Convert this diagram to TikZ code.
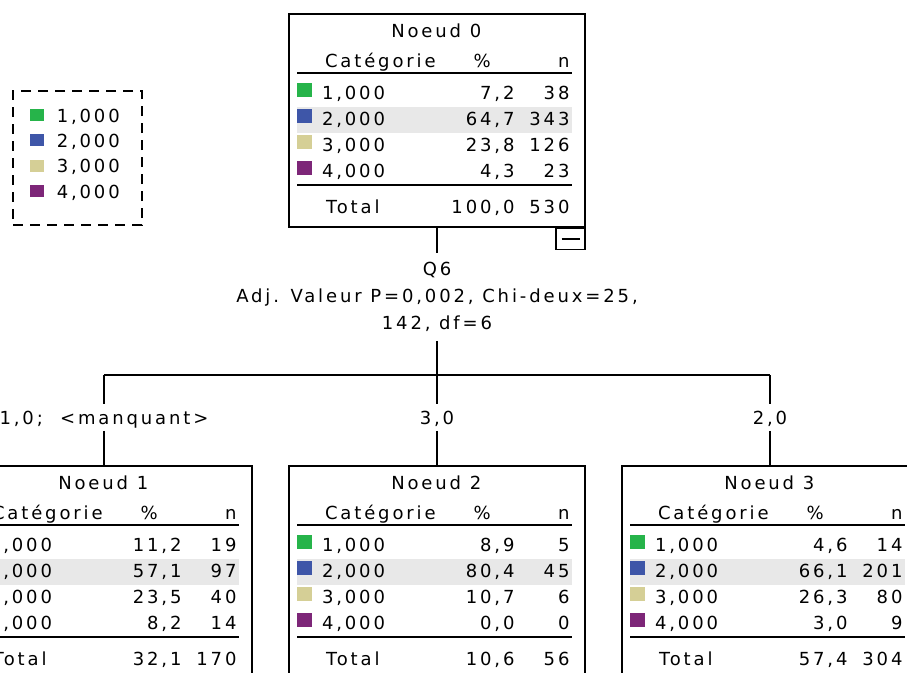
\documentclass[tikz,border=0pt]{standalone}
\usepackage{fontspec}
\setmainfont{DejaVu Sans}[LetterSpace=16]

\definecolor{cat1}{RGB}{38,180,74}
\definecolor{cat2}{RGB}{62,86,168}
\definecolor{cat3}{RGB}{213,207,150}
\definecolor{cat4}{RGB}{125,38,120}
\definecolor{rowgrey}{RGB}{232,232,232}

% one node of the tree: name, top centre, title, rows p/n, total p, total n
\newcommand{\treebox}[6]{%
	\node[boxframe] (#1) at (#2) {};
	\begin{scope}[shift={(#1.north west)}]
		\fill[rowgrey] (9,94) rectangle (284,120);
		\node[cell,anchor=base] (#1-title) at (148,24) {#3};
		\node[cell,anchor=base west] (#1-cat) at (36,54) {Catégorie};
		\node[cell,anchor=base] (#1-pct) at (194,54) {\%};
		\node[cell,anchor=base east] (#1-n) at (282,54) {n};
		\draw[rule] (9,60) -- (284,60);
		\foreach \p/\n [count=\i] in {#4} {
			\pgfmathsetmacro\yb{60+26*\i}
			\fill[cat\i] (9,\yb-16) rectangle (24,\yb-2);
			\node[cell,anchor=base west] (#1-c\i) at (33,\yb) {\i,000};
			\node[cell,anchor=base east] (#1-p\i) at (227,\yb) {\p};
			\node[cell,anchor=base east] (#1-n\i) at (282,\yb) {\n};
		}
		\draw[rule] (9,172) -- (284,172);
		\node[cell,anchor=base west] (#1-tot) at (37,200) {Total};
		\node[cell,anchor=base east] (#1-ptot) at (227,200) {#5};
		\node[cell,anchor=base east] (#1-ntot) at (282,200) {#6};
	\end{scope}}

\begin{document}
\begin{tikzpicture}[x=1pt, y=-1pt, line width=1.5pt,
	font=\fontsize{18}{27}\selectfont,
	boxframe/.style={draw, anchor=north, minimum width=296pt, minimum height=213pt, inner sep=0pt},
	cell/.style={inner sep=0pt},
	rule/.style={line width=1.5pt},
	legendbox/.style={draw, dash pattern=on 10pt off 7pt, minimum width=129pt, minimum height=134pt},
	foldbox/.style={draw, anchor=north east, minimum width=29pt, minimum height=21pt, inner sep=0pt},
	splitlbl/.style={align=center, inner sep=0pt, minimum height=86pt},
	branchlbl/.style={inner sep=0pt, text height=13pt, text depth=0pt, minimum height=25pt}]
	\useasboundingbox (0,0) rectangle (907,672);
	\clip (0,0) rectangle (907,672);

	% legend
	\node[legendbox] (legend) at (77.5,158) {};
	\foreach \i in {1,...,4} {
		\pgfmathsetmacro\yb{122+25.4*(\i-1)}
		\fill[cat\i] (30,\yb-13) rectangle (44,\yb-1);
		\node[cell,anchor=base west] (key\i) at (56,\yb) {\i,000};
	}

	% tree nodes
	\treebox{n0}{437,13}{Noeud 0}{7{,}2/38, 64{,}7/343, 23{,}8/126, 4{,}3/23}{100,0}{530}
	\treebox{n1}{104,465}{Noeud 1}{11{,}2/19, 57{,}1/97, 23{,}5/40, 8{,}2/14}{32,1}{170}
	\treebox{n2}{437,465}{Noeud 2}{8{,}9/5, 80{,}4/45, 10{,}7/6, 0{,}0/0}{10,6}{56}
	\treebox{n3}{770,465}{Noeud 3}{4{,}6/14, 66{,}1/201, 26{,}3/80, 3{,}0/9}{57,4}{304}

	\node[foldbox] (fold) at (n0.south east) {};
	\draw (fold.center) ++(-9,0) -- ++(18,0);

	% split
	\node[splitlbl] (split) at (437,297) {Q6\\Adj. Valeur P=0,002, Chi-deux=25,\\142, df=6};
	\coordinate (bar) at (437,375);
	\node[branchlbl] (lbl1) at (104,417.5) {1,0;\ \ <manquant>};
	\node[branchlbl] (lbl2) at (437,417.5) {3,0};
	\node[branchlbl] (lbl3) at (770,417.5) {2,0};

	\draw (n0.south) -- (split.north);
	\draw (split.south) -- (bar);
	\draw (bar -| n1.north) -- (bar -| n3.north);
	\foreach \k in {1,2,3} {
		\draw (bar -| n\k.north) -- (lbl\k.north);
		\draw (lbl\k.south) -- (n\k.north);
	}
\end{tikzpicture}
\end{document}
